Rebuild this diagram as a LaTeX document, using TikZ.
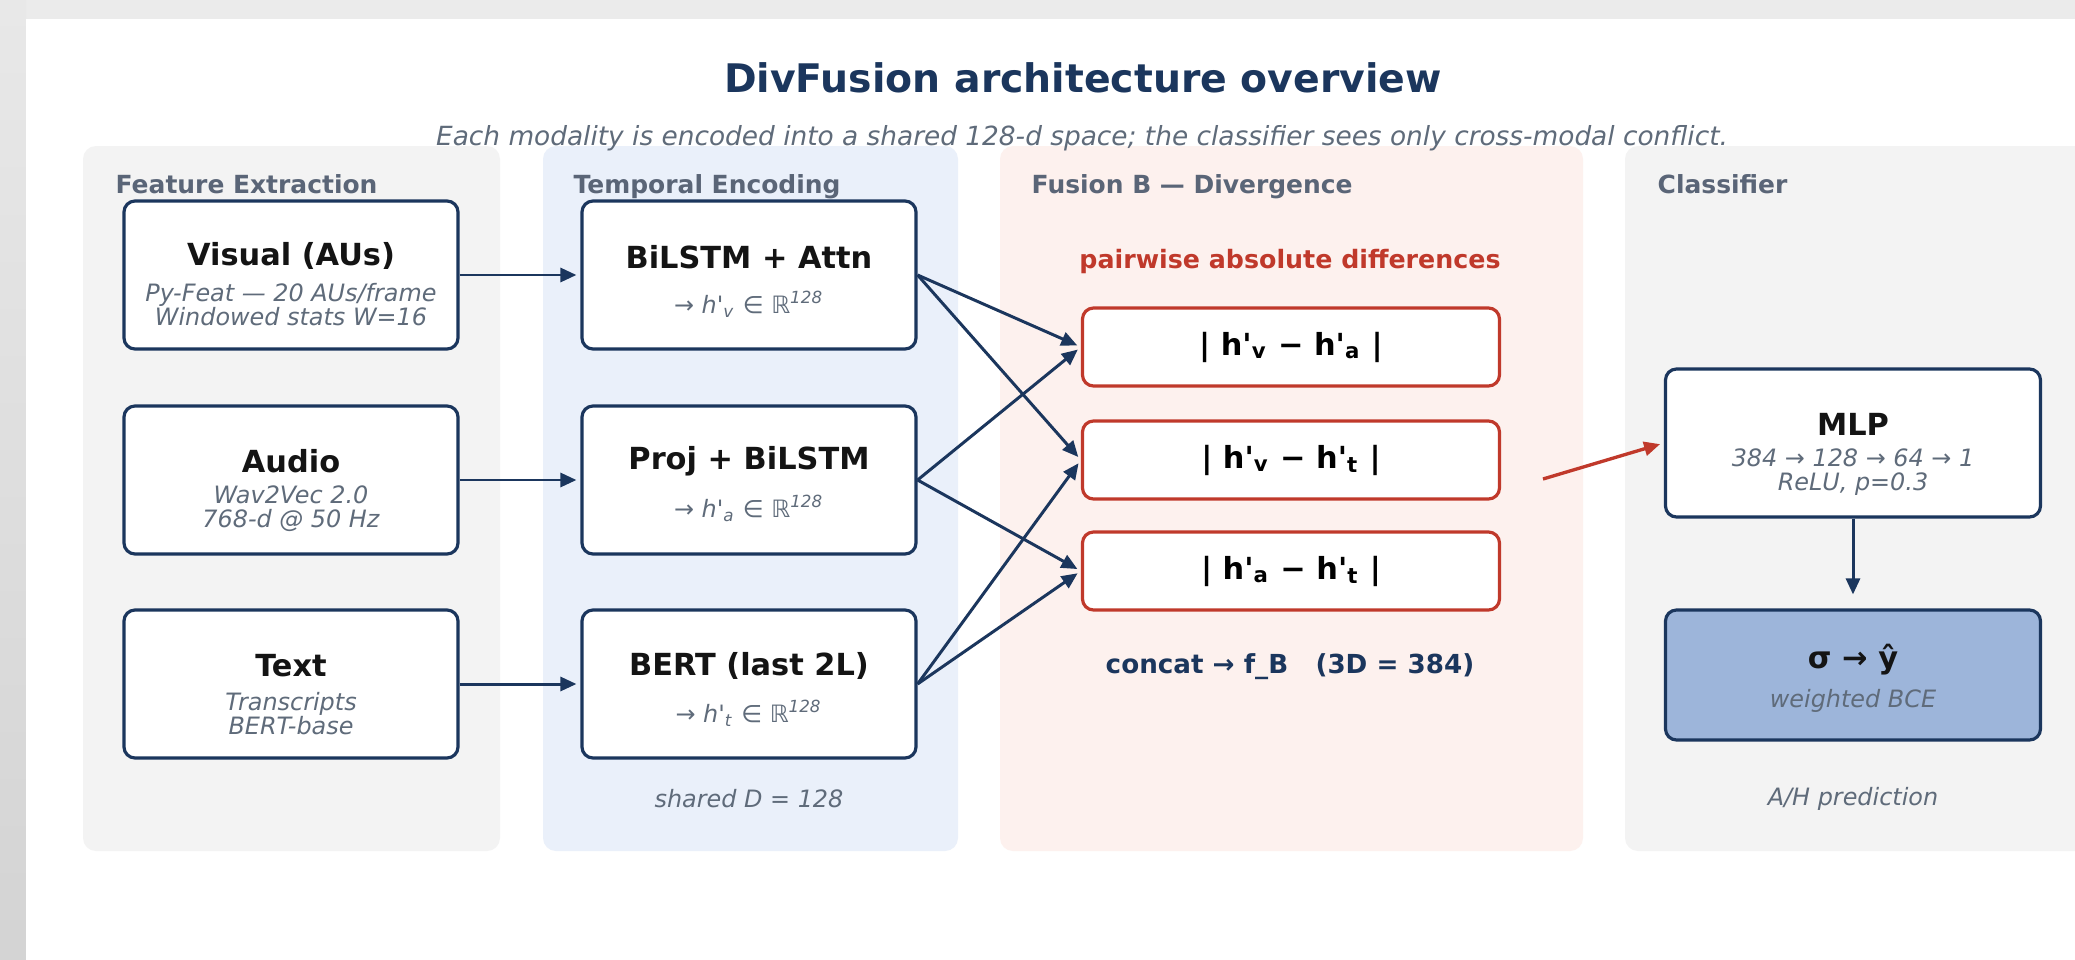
\documentclass[tikz,border=0pt]{standalone}
\usepackage{fontspec}
\setmainfont{DejaVu Sans}
\usetikzlibrary{arrows.meta,positioning}

\definecolor{navy}{HTML}{1B365D}
\definecolor{subgray}{HTML}{5F6B7A}
\definecolor{headgray}{HTML}{5A6577}
\definecolor{divred}{HTML}{C0392B}
\definecolor{panelgray}{HTML}{F3F3F3}
\definecolor{panelblue}{HTML}{EAF0FA}
\definecolor{panelpink}{HTML}{FDF1EE}
\definecolor{sigblue}{HTML}{9DB5DA}
\definecolor{bggray}{HTML}{EBEBEB}

% h' with a subscript, and the embedding line under each encoder
\newcommand{\hsub}[1]{h\textquotesingle\textsubscript{#1}}
\newcommand{\hemb}[1]{→ \textit{h\textquotesingle}\textsubscript{\textit{#1}} ∈ ℝ\textsuperscript{\textit{128}}}

\begin{document}
\begin{tikzpicture}[x=0.1mm, y=-0.1mm,
    modbox/.style={draw=navy, line width=0.9pt, fill=white, rounded corners=1.1mm,
      minimum width=33.4mm, minimum height=14.8mm, inner sep=0pt},
    diffbox/.style={modbox, draw=divred, minimum width=41.7mm, minimum height=7.8mm},
    clsbox/.style={modbox, minimum width=37.5mm},
    ttl/.style={inner sep=0pt, text=black!92, font=\fontsize{8.65}{10}\selectfont\bfseries},
    subtxt/.style={inner sep=0pt, align=center, text=subgray, font=\fontsize{6.8}{6.85}\selectfont\itshape},
    embtxt/.style={inner sep=0pt, text=subgray, font=\fontsize{6.8}{8}\selectfont},
    pnltitle/.style={anchor=base west, inner sep=0pt, text=headgray, font=\fontsize{7.1}{8}\selectfont\bfseries},
    arr/.style={-{Triangle[length=1.6mm,width=1.4mm]}, draw=navy, line width=0.85pt, shorten >=0.4mm},
    redarr/.style={arr, draw=divred, line width=0.95pt}]
    \useasboundingbox (0,0) rectangle (2075,960);

    % page
    \fill[bggray] (0,0) rectangle (2075,960);
    \shade[top color=black!9, bottom color=black!17] (0,0) rectangle (26,960);
    \fill[white] (26,19) rectangle (2075,960);

    % panels
    \fill[panelgray, rounded corners=1.3mm] (83,146) rectangle (500,851);
    \fill[panelblue, rounded corners=1.3mm] (543,146) rectangle (958,851);
    \fill[panelpink, rounded corners=1.3mm] (1000,146) rectangle (1583,851);
    \fill[panelgray, rounded corners=1.3mm] (1625,146) rectangle (2110,851);
    \node[pnltitle] (fe-t) at (115,193) {Feature Extraction};
    \node[pnltitle] (te-t) at (573,193) {Temporal Encoding};
    \node[pnltitle] (fb-t) at (1031,193) {Fusion B — Divergence};
    \node[pnltitle] (cl-t) at (1657,193) {Classifier};

    \node[text=navy, font=\fontsize{11.2}{13}\selectfont\bfseries] (title) at (1083,78) {DivFusion architecture overview};
    \node[text=subgray, font=\fontsize{7.5}{9}\selectfont\itshape] (subtitle) at (1082,138)
        {Each modality is encoded into a shared 128-d space; the classifier sees only cross-modal conflict.};

    % feature extraction
    \node[modbox] (vis) at (291,275) {};
    \node[modbox] (aud) at (291,480) {};
    \node[modbox] (txt) at (291,684) {};
    \node[ttl] at (291,256) {Visual (AUs)};
    \node[subtxt] at (291,305) {Py-Feat — 20 AUs/frame\\Windowed stats W=16};
    \node[ttl] at (291,461) {Audio};
    \node[subtxt] at (291,509) {Wav2Vec 2.0\\768-d @ 50 Hz};
    \node[ttl] at (291,666) {Text};
    \node[subtxt] at (291,714) {Transcripts\\BERT-base};

    % temporal encoding
    \node[modbox] (bil) at (749,275) {};
    \node[modbox] (prj) at (749,480) {};
    \node[modbox] (brt) at (749,684) {};
    \node[ttl] at (749,257) {BiLSTM + Attn};
    \node[embtxt] at (749,304) {\hemb{v}};
    \node[ttl] at (749,461) {Proj + BiLSTM};
    \node[embtxt] at (749,508) {\hemb{a}};
    \node[ttl] at (749,666) {BERT (last 2L)};
    \node[embtxt] at (749,713) {\hemb{t}};
    \node[subtxt] (shared) at (749,799) {shared D = 128};

    % fusion B
    \node[text=divred, inner sep=0pt, font=\fontsize{7.2}{8}\selectfont\bfseries] (pairs) at (1290,262) {pairwise absolute differences};
    \node[diffbox, font=\fontsize{8.65}{10}\selectfont\bfseries] (d1) at (1291,347) {| \hsub{v} − \hsub{a} |};
    \node[diffbox, font=\fontsize{8.65}{10}\selectfont\bfseries] (d2) at (1291,460) {| \hsub{v} − \hsub{t} |};
    \node[diffbox, font=\fontsize{8.65}{10}\selectfont\bfseries] (d3) at (1291,571) {| \hsub{a} − \hsub{t} |};
    \node[text=navy, inner sep=0pt, font=\fontsize{7.45}{9}\selectfont\bfseries] (concat) at (1290,667) {concat → f\_B\ \ \ (3D = 384)};
    \coordinate (fbout) at (1543,479);

    % classifier
    \node[clsbox] (mlp) at (1853,443) {};
    \node[ttl] at (1853,424) {MLP};
    \node[subtxt] at (1853,472) {384 → 128 → 64 → 1\\ReLU, p=0.3};
    \node[clsbox, fill=sigblue, minimum height=13mm] (sig) at (1853,675) {};
    \node[ttl] at (1853,660) {σ → ŷ};
    \node[subtxt] at (1853,701) {weighted BCE};
    \node[subtxt] (pred) at (1853,799) {A/H prediction};

    % connectors
    \draw[arr] (vis.east) -- (bil.west);
    \draw[arr] (aud.east) -- (prj.west);
    \draw[arr] (txt.east) -- (brt.west);
    \draw[arr] (bil.east) -- (d1.west);
    \draw[arr] (bil.east) -- (d2.west);
    \draw[arr] (prj.east) -- (d1.west);
    \draw[arr] (prj.east) -- (d3.west);
    \draw[arr] (brt.east) -- (d2.west);
    \draw[arr] (brt.east) -- (d3.west);
    \draw[redarr] (fbout) -- (mlp.west);
    \draw[arr, shorten >=1.4mm] (mlp.south) -- (sig.north);
\end{tikzpicture}
\end{document}
